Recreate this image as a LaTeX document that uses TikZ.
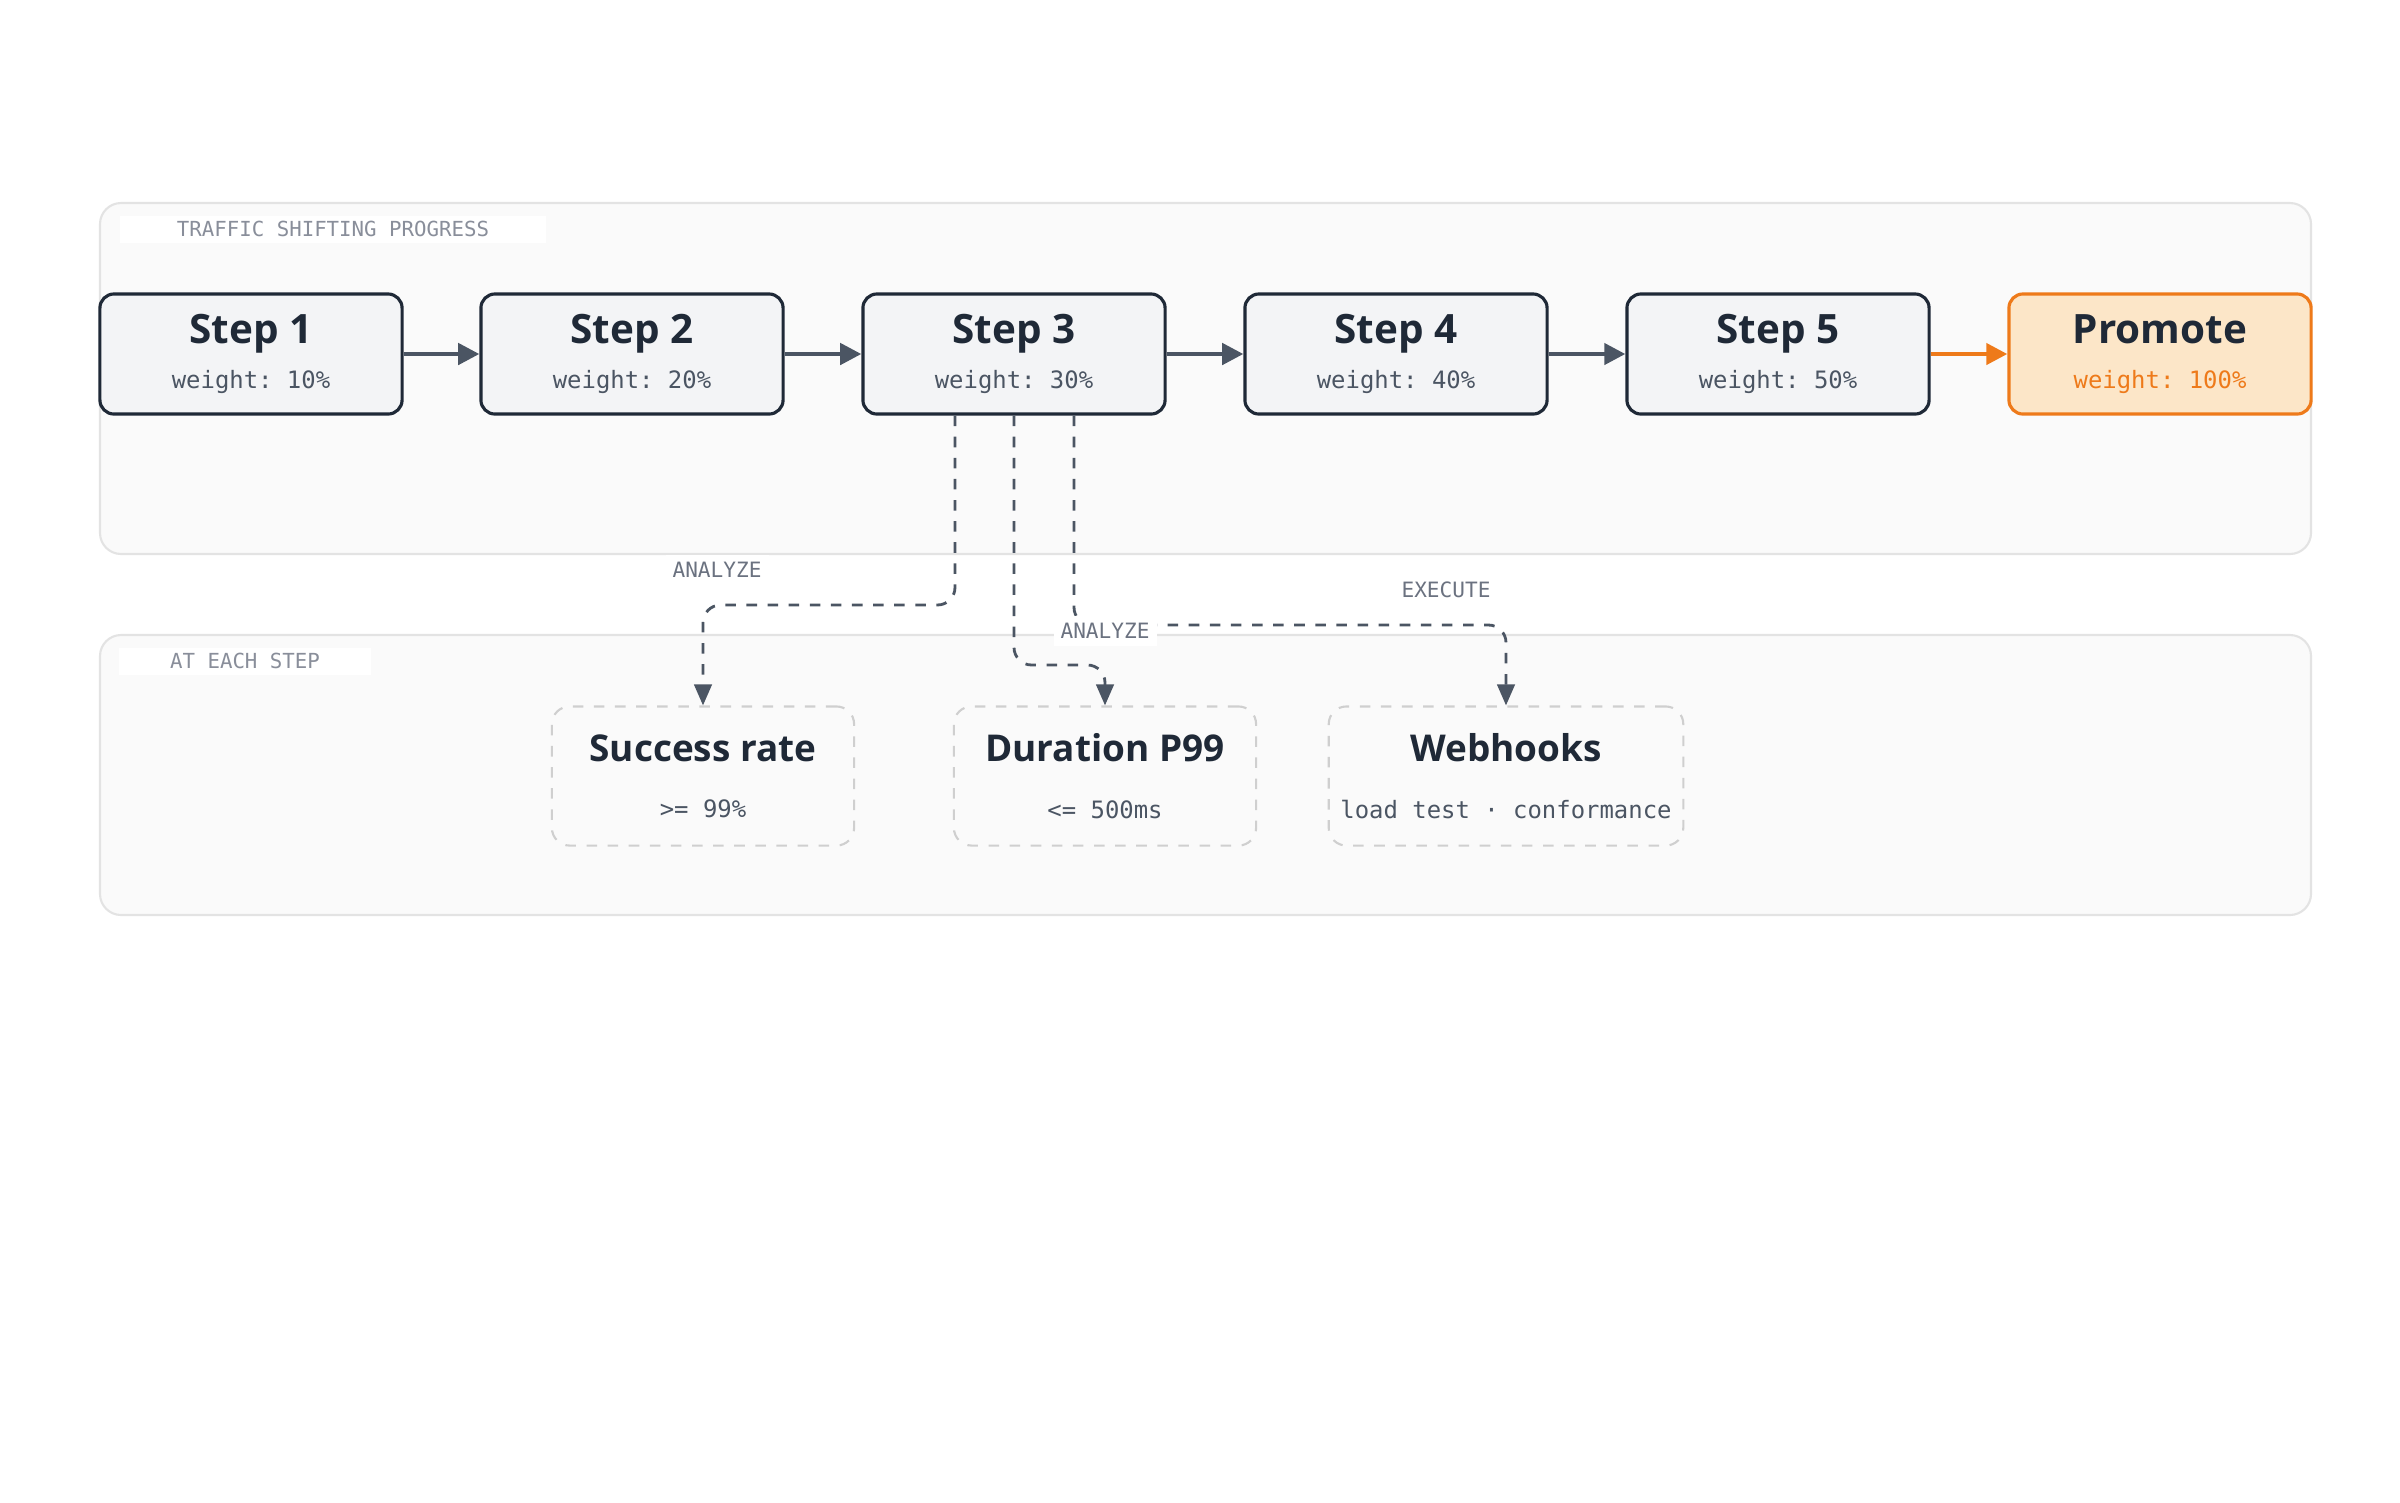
\documentclass[tikz,border=0pt]{standalone}
\usepackage{fontspec}
\setmainfont{Open Sans}
\setmonofont{DejaVu Sans Mono}
\usetikzlibrary{arrows.meta}
\definecolor{dark}{HTML}{1F2937}
\definecolor{stepfill}{HTML}{F3F4F6}
\definecolor{grpfill}{HTML}{FAFAFA}
\definecolor{grpline}{HTML}{E3E3E3}
\definecolor{arr}{HTML}{4B5563}
\definecolor{sub}{HTML}{4B5563}
\definecolor{lab}{HTML}{6B7280}
\definecolor{orng}{HTML}{EE7A1A}
\definecolor{ofill}{HTML}{FCE6C8}
\definecolor{mline}{HTML}{CFCFCF}
\begin{document}
\begin{tikzpicture}[x=0.01cm,y=-0.01cm,
  grp/.style={draw=grpline,fill=grpfill,line width=0.6pt,rounded corners=6pt},
  grplab/.style={fill=white,inner sep=0pt,minimum height=0.27cm,font=\ttfamily\fontsize{5.9}{7}\selectfont,text=lab!80},
  stepbox/.style={draw=dark,fill=stepfill,line width=0.9pt,rounded corners=4pt,minimum width=3.02cm,minimum height=1.2cm,align=center},
  metric/.style={draw=mline,dashed,line width=0.6pt,rounded corners=5pt,minimum width=3.02cm,minimum height=1.39cm,align=center},
  flow/.style={draw=arr,line width=1.2pt,-{Triangle[length=6pt,width=6pt]}},
  dflow/.style={draw=arr,line width=0.8pt,dashed,rounded corners=5pt,-{Triangle[length=6pt,width=5pt]}},
  clab/.style={fill=white,inner sep=2pt,font=\ttfamily\fontsize{6}{7}\selectfont,text=lab}]
\useasboundingbox (0,0) rectangle (2400,1502);
\fill[white] (0,0) rectangle (2400,1502);
\draw[grp] (100,203) rectangle (2311,554);
\draw[grp] (100,635) rectangle (2311,915);
\node[grplab,minimum width=4.26cm] (t1) at (333,229) {TRAFFIC SHIFTING PROGRESS};
\node[grplab,minimum width=2.51cm] (t2) at (245,661) {AT EACH STEP};
\newcommand{\stp}[4]{\node[stepbox] (#1) at (#2,354) {{\fontsize{11.5}{13}\selectfont\bfseries\color{dark}#3}\\[1pt]{\ttfamily\fontsize{6.8}{8}\selectfont\color{sub}weight: #4}};}
\stp{s1}{251}{Step 1}{10\%}
\stp{s2}{632}{Step 2}{20\%}
\stp{s3}{1014}{Step 3}{30\%}
\stp{s4}{1396}{Step 4}{40\%}
\stp{s5}{1778}{Step 5}{50\%}
\node[stepbox,draw=orng,fill=ofill] (pr) at (2160,354) {{\fontsize{11.5}{13}\selectfont\bfseries\color{dark}Promote}\\[1pt]{\ttfamily\fontsize{6.8}{8}\selectfont\color{orng}weight: 100\%}};
\draw[flow] (s1) -- (s2);
\draw[flow] (s2) -- (s3);
\draw[flow] (s3) -- (s4);
\draw[flow] (s4) -- (s5);
\draw[flow,draw=orng] (s5) -- (pr);
\newcommand{\met}[4]{\node[metric] (#1) at (#2,776) {{\fontsize{10.5}{12}\selectfont\bfseries\color{dark}#3}\\[4pt]{\ttfamily\fontsize{6.8}{8}\selectfont\color{sub}#4}};}
\met{m1}{703}{Success rate}{>= 99\%}
\met{m2}{1105}{Duration P99}{<= 500ms}
\met{m3}{1506}{Webhooks}{load test · conformance}
\draw[dflow] (s3.south -| 955,0) -- (955,605) -- (703,605) -- (m1.north);
\draw[dflow] (s3.south) -- (1014,665) -- (1105,665) -- (m2.north);
\draw[dflow] (s3.south -| 1074,0) -- (1074,625) -- (1506,625) -- (m3.north);
\node[clab] (l1) at (717,570) {ANALYZE};
\node[clab] (l2) at (1105,631) {ANALYZE};
\node[clab] (l3) at (1446,590) {EXECUTE};
\end{tikzpicture}
\end{document}
